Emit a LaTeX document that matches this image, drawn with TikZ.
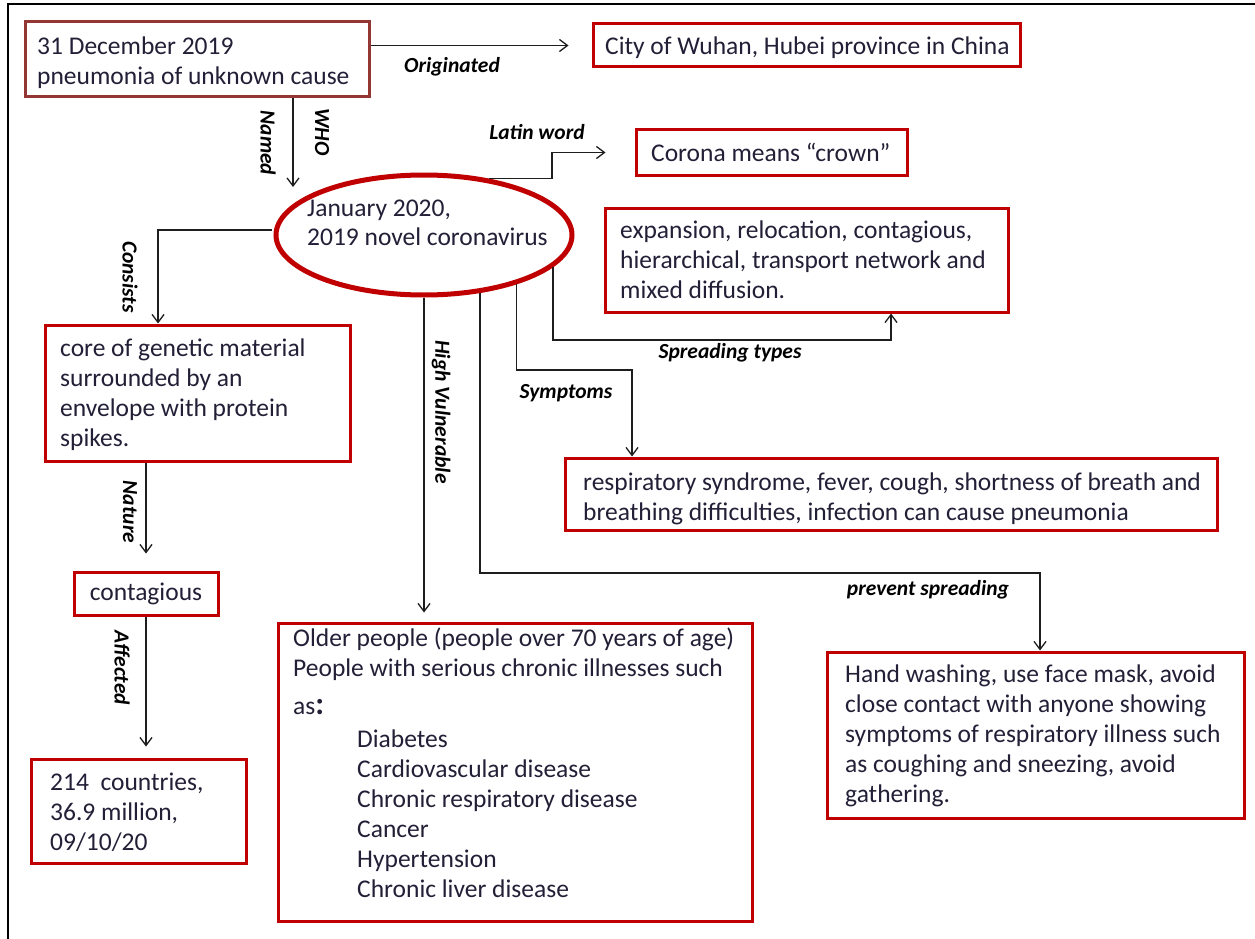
\documentclass[tikz,border=0pt]{standalone}
\usepackage{fontspec}
\setmainfont{Carlito}
\usetikzlibrary{shapes.geometric,arrows.meta,calc}
\definecolor{boxred}{RGB}{192,0,0}
\definecolor{darkred}{RGB}{148,54,52}
\definecolor{txtc}{RGB}{35,31,55}
\definecolor{linec}{RGB}{30,30,30}
\begin{document}
\begin{tikzpicture}[x=1pt,y=-1pt,
  rbox/.style={draw=boxred,line width=3pt,rectangle,inner sep=0pt},
  body/.style={text=txtc,font=\fontsize{25.5}{30}\selectfont,inner sep=0pt,align=left,anchor=north west},
  lbl/.style={text=black,font=\fontsize{21.5}{24}\selectfont\bfseries\itshape,inner sep=0pt},
  conn/.style={draw=linec,line width=1.3pt,-{Straight Barb[length=8pt,width=12pt]}},
]
\useasboundingbox (0,0) rectangle (1255,939);
\fill[white] (0,0) rectangle (1255,939);
\draw[line width=2pt] (1255,4) -- (8,4) -- (8,939);

% boxes
\node[rbox,draw=darkred,minimum width=344,minimum height=75] (b1) at (197,59.5) {};
\node[rbox,minimum width=427,minimum height=43] (city) at (806.5,45.5) {};
\node[rbox,minimum width=271,minimum height=45] (corona) at (771.5,152.5) {};
\node[rbox,minimum width=403,minimum height=104] (spread) at (806.5,260) {};
\node[rbox,minimum width=652,minimum height=72] (symp) at (891,494) {};
\node[rbox,minimum width=417,minimum height=166] (prev) at (1035.5,735) {};
\node[rbox,minimum width=474,minimum height=298] (older) at (515,772) {};
\node[rbox,minimum width=305,minimum height=136] (core) at (197.5,393) {};
\node[rbox,minimum width=144,minimum height=43,text=txtc,font=\fontsize{25.5}{30}\selectfont] (contag) at (146,593.5) {contagious};
\node[rbox,minimum width=215,minimum height=104] (countries) at (138.5,811) {};
\node[draw=boxred,line width=5pt,ellipse,inner sep=0pt,minimum width=296,minimum height=120] (ell) at (424,235) {};

% texts
\node[body] (t1) at (37,33) {\strut 31 December 2019\\\strut pneumonia of unknown cause};
\node[body] (tcity) at (605,33) {\strut City of Wuhan, Hubei province in China};
\node[body] (tcorona) at (651,140) {\strut Corona means “crown”};
\node[body] (tspread) at (620,217) {\strut expansion, relocation, contagious,\\\strut hierarchical, transport network and\\\strut mixed diffusion.};
\node[body] (tsymp) at (583,469) {\strut respiratory syndrome, fever, cough, shortness of breath and\\\strut breathing difficulties, infection can cause pneumonia};
\node[body] (tprev) at (845,661) {\strut Hand washing, use face mask, avoid\\\strut close contact with anyone showing\\\strut symptoms of respiratory illness such\\\strut as coughing and sneezing, avoid\\\strut gathering.};
\node[body] (tolder) at (293,625) {\strut Older people (people over 70 years of age)\\\strut People with serious chronic illnesses such\\[8pt]\strut as{\fontsize{32}{30}\selectfont\bfseries :}};
\node[body] (titems) at (357,726) {\strut Diabetes\\\strut Cardiovascular disease\\\strut Chronic respiratory disease\\\strut Cancer\\\strut Hypertension\\\strut Chronic liver disease};
\node[body] (tcore) at (60,335) {\strut core of genetic material\\\strut surrounded by an\\\strut envelope with protein\\\strut spikes.};
\node[body] (tcountries) at (50,769) {\strut 214\ \ countries,\\\strut 36.9 million,\\\strut 09/10/20};
\node[body,font=\fontsize{25.5}{29}\selectfont] (tell) at (307,196) {\strut January 2020,\\\strut 2019 novel coronavirus};

% connectors
\coordinate (whoend) at (293,187);
\draw[conn] (b1.south -| whoend) -- (whoend);
\draw[conn,shorten >=23pt] (b1.east |- city.west) -- (city.west);
\coordinate (latk) at (552,176);
\draw[conn,shorten >=29pt] (ell.41) -- (ell.41 -| latk) |- (corona.west);
\coordinate (spc) at (891,340);
\draw[conn] (ell.-14) |- (spc) -- (spc |- spread.south);
\coordinate (syc) at (632,370);
\draw[conn] (ell.-28) |- (syc) -- (syc |- symp.north);
\coordinate (prc) at (1040,573);
\draw[conn] (ell.-46) |- (prc) -- (prc |- prev.north);
\draw[conn,shorten >=9pt] (ell.south) -- (ell.south |- older.north);
\coordinate (cst) at (272,230);
\coordinate (csc) at (158,230);
\draw[conn] (cst) -- (csc) -- (csc |- core.north);
\draw[conn,shorten >=17pt] (core.south -| contag.north) -- (contag.north);
\draw[conn,shorten >=11pt] (contag.south) -- (contag.south |- countries.north);

% labels
\node[lbl] (lorig) at (452,67) {Originated};
\node[lbl] (llatin) at (537,132) {Latin word};
\node[lbl] (lspread) at (730,353) {Spreading types};
\node[lbl] (lsymp) at (566,393) {Symptoms};
\node[lbl] (lprev) at (928,590) {prevent spreading};
\node[lbl,rotate=-90] (lnamed) at (268,143) {Named};
\node[lbl,rotate=-90] (lwho) at (322,132) {WHO};
\node[lbl,rotate=-90] (lcons) at (130,277) {Consists};
\node[lbl,rotate=-90] (lhigh) at (441,412) {High Vulnerable};
\node[lbl,rotate=-90] (lnat) at (130,512) {Nature};
\node[lbl,rotate=-90] (laff) at (122,668) {Affected};
\end{tikzpicture}
\end{document}
